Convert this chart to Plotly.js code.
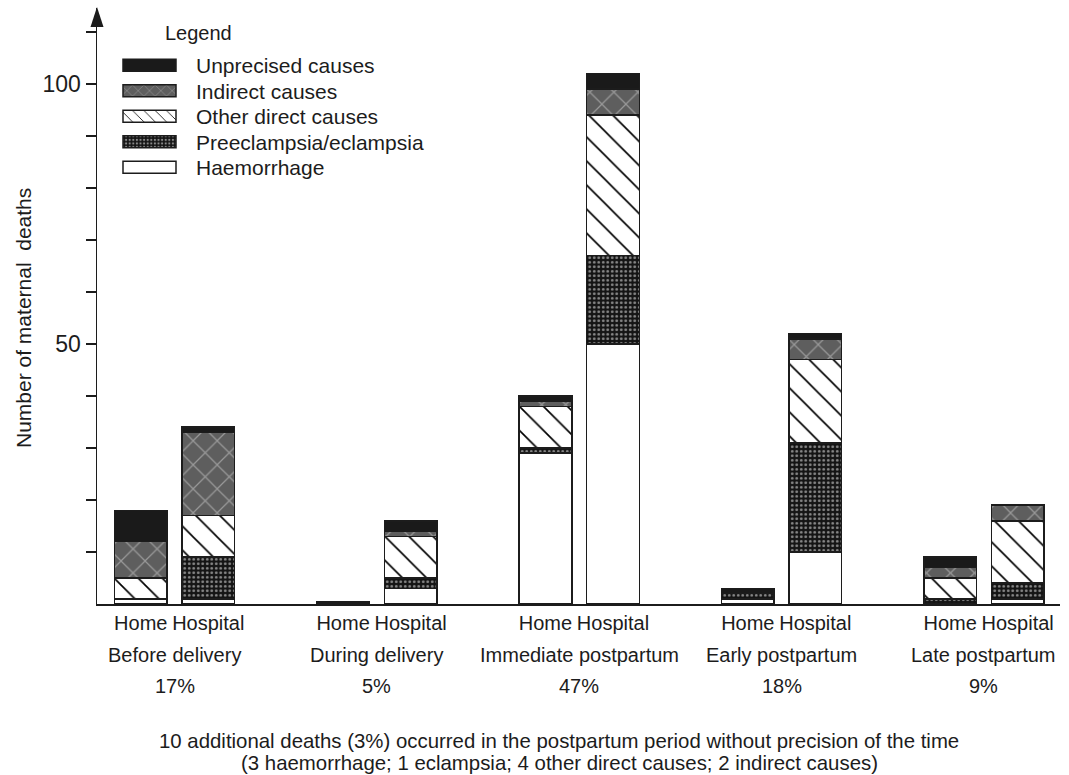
<!DOCTYPE html>
<html><head><meta charset="utf-8">
<script src="https://cdn.plot.ly/plotly-3.0.1.min.js"></script>
<style>html,body{margin:0;padding:0;background:#fff}#chart{width:1069px;height:775px}</style>
</head><body><div id="chart"></div>
<script>
// ---- data ----
const groups = ["Before delivery", "During delivery", "Immediate postpartum", "Early postpartum", "Late postpartum"];
const percents = ["17%", "5%", "47%", "18%", "9%"];
const places = ["Home", "Hospital"];

const haemorrhageHome      = [1, 0, 29, 1, 0];
const haemorrhageHospital  = [1, 3, 50, 10, 1];
const preeclampsiaHome     = [0, 0, 1, 1, 1];
const preeclampsiaHospital = [8, 2, 17, 21, 3];
const otherDirectHome      = [4, 0, 8, 0, 4];
const otherDirectHospital  = [8, 8, 27, 16, 12];
const indirectHome         = [7, 0, 1, 0, 2];
const indirectHospital     = [16, 1, 5, 4, 3];
const unprecisedHome       = [6, 0.4, 1, 1, 2];
const unprecisedHospital   = [1, 2, 3, 1, 0];

const yTickValues = [10, 20, 30, 40, 50, 60, 70, 80, 90, 100, 110];
const yTickLabels = ["", "", "", "", "50", "", "", "", "", "100", ""];
const yTitle = "Number of maternal\u00a0 deaths";
const noteLines = [
  "10 additional deaths (3%) occurred in the postpartum period without precision of the time",
  "(3 haemorrhage; 1 eclampsia; 4 other direct causes; 2 indirect causes)"
];

// ---- layout helpers ----
const W = 1069, H = 775;
const M = {l: 97, r: 9, t: 8, b: 171, autoexpand: false};
const PW = W - M.l - M.r, PH = H - M.t - M.b;
const px2x = p => (p - M.l) / PW;
const py2y = p => (H - M.b - p) / PH;

const sideOffset = 0.1668, barWidth = 0.26;
const xPos = [], tickText = [];
groups.forEach((g, i) => {
  xPos.push(i - sideOffset, i + sideOffset);
  tickText.push(places[0], places[1]);
});
const interleave = (a, b) => a.flatMap((v, i) => [v, b[i]]);

const FONT = "Liberation Sans, Arial, Helvetica, sans-serif";
const INK = "#1c1c1c";
const edge = {color: INK, width: 1.5};

const traces = [
  {name: "Haemorrhage", y: interleave(haemorrhageHome, haemorrhageHospital),
   marker: {color: "#ffffff", line: edge}},
  {name: "Preeclampsia/eclampsia", y: interleave(preeclampsiaHome, preeclampsiaHospital),
   marker: {color: "#141414", line: edge,
     pattern: {shape: ".", fillmode: "overlay", fgcolor: "#ffffff", size: 4.5, solidity: 0.3}}},
  {name: "Other direct causes", y: interleave(otherDirectHome, otherDirectHospital),
   marker: {color: "#ffffff", line: edge,
     pattern: {shape: "\\", fillmode: "overlay", fgcolor: "#000000", fgopacity: 1, size: 17, solidity: 0.1}}},
  {name: "Indirect causes", y: interleave(indirectHome, indirectHospital),
   marker: {color: "#5e5e5e", line: edge,
     pattern: {shape: "x", fillmode: "overlay", fgcolor: "#d2d2d2", size: 17, solidity: 0.14}}},
  {name: "Unprecised causes", y: interleave(unprecisedHome, unprecisedHospital),
   marker: {color: "#1a1a1a", line: edge}}
].map(t => Object.assign({type: "bar", x: xPos, width: barWidth, hoverinfo: "y+name"}, t));

const annotations = [
  {text: "Legend", x: px2x(198), y: py2y(33), xref: "paper", yref: "paper", showarrow: false,
   xanchor: "center", yanchor: "middle", font: {size: 20, family: FONT, color: INK}},
  {text: yTitle, x: px2x(23), y: py2y(318), xref: "paper", yref: "paper", showarrow: false,
   textangle: -90, xanchor: "center", yanchor: "middle", font: {size: 21, family: FONT, color: INK}}
];
groups.forEach((g, i) => {
  annotations.push({text: g, x: i, y: py2y(655), xref: "x", yref: "paper", showarrow: false,
    xanchor: "center", yanchor: "middle", font: {size: 20, family: FONT, color: INK}});
  annotations.push({text: percents[i], x: i, y: py2y(686), xref: "x", yref: "paper", showarrow: false,
    xanchor: "center", yanchor: "middle", font: {size: 20, family: FONT, color: INK}});
});
noteLines.forEach((t, k) => {
  annotations.push({text: t, x: px2x(559), y: py2y(741 + 22 * k), xref: "paper", yref: "paper",
    showarrow: false, xanchor: "center", yanchor: "middle",
    font: {size: 20.4, family: "Liberation Sans Narrow, Arial Narrow, " + FONT, color: INK}});
});

const layout = {
  width: W, height: H, margin: M,
  paper_bgcolor: "#ffffff", plot_bgcolor: "#ffffff",
  barmode: "stack", showlegend: true,
  font: {family: FONT, color: INK, size: 20},
  xaxis: {range: [-0.383, 4.376], tickvals: xPos, ticktext: tickText, tickangle: 0, automargin: false,
    showline: true, linecolor: INK, linewidth: 1.5, ticks: "", showgrid: false, zeroline: false,
    tickfont: {size: 20, family: FONT, color: INK}, ticklabelstandoff: 0, fixedrange: true},
  yaxis: {range: [0, 114.6], tickvals: yTickValues, ticktext: yTickLabels, automargin: false,
    showline: true, linecolor: INK, linewidth: 1.5, ticks: "outside", ticklen: 10, tickwidth: 1.3,
    tickcolor: INK, showgrid: false, zeroline: false,
    tickfont: {size: 23, family: FONT, color: INK}},
  legend: {traceorder: "reversed", xref: "paper", yref: "paper",
    x: px2x(103), y: py2y(45), xanchor: "left", yanchor: "top",
    bgcolor: "rgba(0,0,0,0)", borderwidth: 0, itemwidth: 83,
    font: {size: 21, family: FONT, color: INK}},
  shapes: [{type: "path", xref: "paper", yref: "paper",
    path: `M ${-6.5 / PW},${py2y(27)} L ${6.5 / PW},${py2y(27)} L 0,${py2y(7)} Z`,
    fillcolor: INK, line: {width: 0}}],
  annotations: annotations
};

function fixLegend(gd) {
  gd.querySelectorAll(".legend .legendpoints path").forEach(p => {
    p.setAttribute("d", "M-26.5,6H26.5V-6H-26.5Z");
  });
  const items = Array.from(gd.querySelectorAll(".legend .traces"));
  if (!items.length) return;
  const parse = el => {
    const m = /translate\(\s*([-\d.]+)[ ,]+([-\d.]+)\s*\)/.exec(el.getAttribute("transform") || "");
    return m ? [parseFloat(m[1]), parseFloat(m[2])] : [0, 0];
  };
  const base = parse(items[0]);
  items.forEach((el, i) => {
    const [tx] = parse(el);
    el.setAttribute("transform", `translate(${tx},${base[1] + i * 25.5})`);
  });
}
const gd = document.getElementById("chart");
Plotly.newPlot(gd, traces, layout, {displayModeBar: false, staticPlot: true}).then(() => {
  fixLegend(gd);
  gd.on && gd.on("plotly_afterplot", () => fixLegend(gd));
});
</script>
</body></html>
